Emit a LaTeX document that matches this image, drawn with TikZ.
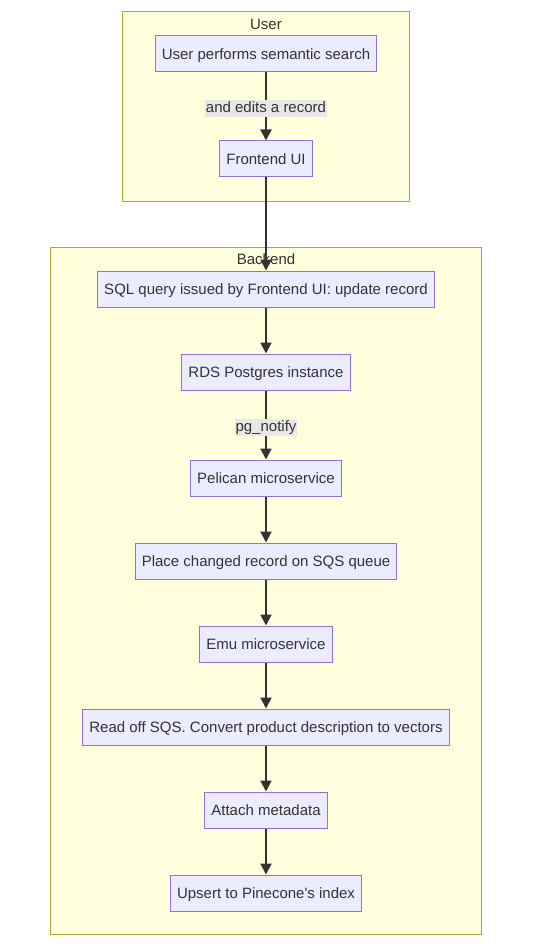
\documentclass[tikz,border=0pt]{standalone}
\usepackage{fontspec}
\setmainfont{Liberation Sans}
\usetikzlibrary{arrows.meta}

\definecolor{nodefill}{HTML}{ECECFF}
\definecolor{nodeline}{HTML}{9370DB}
\definecolor{clusterfill}{HTML}{FFFFDE}
\definecolor{clusterline}{HTML}{AAAA33}
\definecolor{edgecol}{HTML}{333333}
\definecolor{labelfill}{HTML}{E8E8E8}

\tikzset{
    stepbox/.style={draw=nodeline, fill=nodefill, line width=1pt, minimum height=36pt,
        inner xsep=6.5pt, text height=11.5pt, text depth=0.5pt, text=edgecol,
        font=\fontsize{15}{18}\selectfont},
    cluster/.style={draw=clusterline, fill=clusterfill, line width=1pt},
    clustertitle/.style={text=edgecol, font=\fontsize{15}{18}\selectfont},
    flow/.style={draw=edgecol, line width=2pt, -{Triangle[length=11pt, width=11pt]}},
    edgelabel/.style={fill=labelfill, inner sep=1pt, text height=11.5pt, text depth=3.5pt,
        yshift=-2pt, text=edgecol, font=\fontsize{15}{18}\selectfont}
}

\begin{document}
\begin{tikzpicture}[x=1pt, y=-1pt]
    \useasboundingbox (0,0) rectangle (538,944);

    % Draw the two clusters
    \draw[cluster] (122,12) rectangle (409,201);
    \node[clustertitle] (usertitle) at (266,24) {User};
    \draw[cluster] (50,247) rectangle (481,934);
    \node[clustertitle] (backendtitle) at (266,259) {Backend};

    % Draw the user steps
    \node[stepbox] (search) at (266,54) {User performs semantic search};
    \node[stepbox] (frontend) at (266,159) {Frontend UI};

    % Draw the backend steps
    \foreach \name/\y/\txt in {sql/289/{SQL query issued by Frontend UI: update record},
        rds/372/{RDS Postgres instance},
        pelican/478/{Pelican microservice},
        sqs/561/{Place changed record on SQS queue},
        emu/644/{Emu microservice},
        vectors/727/{Read off SQS. Convert product description to vectors},
        metadata/810/{Attach metadata},
        upsert/893/{Upsert to Pinecone\textquotesingle s index}} {
        \node[stepbox] (\name) at (266,\y) {\txt};
    }

    % Draw the arrows
    \draw[flow] (search) -- node[edgelabel] {and edits a record} (frontend);
    \draw[flow] (frontend) -- (sql);
    \draw[flow] (rds) -- node[edgelabel] {pg\_notify} (pelican);
    \foreach \a/\b in {sql/rds, pelican/sqs, sqs/emu, emu/vectors, vectors/metadata, metadata/upsert} {
        \draw[flow] (\a) -- (\b);
    }

\end{tikzpicture}
\end{document}
